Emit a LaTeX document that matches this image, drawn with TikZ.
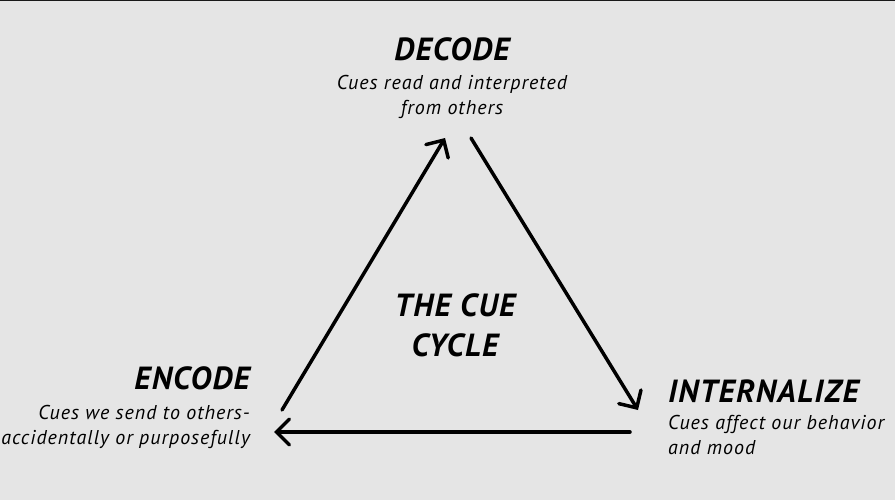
\documentclass[tikz,border=0pt]{standalone}
\usepackage{fontspec}
\setmainfont{PT Sans}
\newfontfamily\headfont{PT Sans}[LetterSpace=4]
\newfontfamily\cuefont{PT Sans}[LetterSpace=5]
\usetikzlibrary{arrows.meta}

\begin{document}
\begin{tikzpicture}[x=1pt,y=-1pt]
\tikzstyle{head}=[inner sep=0pt,font=\headfont\fontsize{32}{40}\selectfont\bfseries\itshape]
\tikzstyle{cue}=[inner sep=0pt,font=\cuefont\fontsize{20}{25.5}\selectfont\itshape]
\tikzstyle{cyc}=[line width=3.5pt,line cap=round,-{Straight Barb[length=13pt,width=26pt,line cap=round]}]

\fill[black!10] (0,0) rectangle (895,500);
\fill[black!90] (0,0) rectangle (895,1.5);
\useasboundingbox (0,0) rectangle (895,500);

\node[head,anchor=base] (decode) at (452,61) {DECODE};
\node[cue,anchor=north,align=center] (decodeTxt) at (452,75) {Cues read and interpreted\\from others};

\node[head,anchor=north,align=center] (title) at (455,293) {THE CUE\\CYCLE};

\node[head,anchor=base east] (encode) at (250,389) {ENCODE};
\node[cue,anchor=north east,align=right] (encodeTxt) at (250,405) {Cues we send to others-\\accidentally or purposefully};

\node[head,anchor=base west] (intern) at (668,402) {INTERNALIZE};
\node[cue,anchor=north west,align=left] (internTxt) at (668,415) {Cues affect our behavior\\and mood};

\coordinate (encOut) at (282,410);
\coordinate (decIn)  at (445,138);
\coordinate (decOut) at (471,138);
\coordinate (intIn)  at (638,410);
\coordinate (intOut) at (630,432);
\coordinate (encIn)  at (274,432);

\draw[cyc] (encOut) -- (decIn);
\draw[cyc] (decOut) -- (intIn);
\draw[cyc] (intOut) -- (encIn);

\end{tikzpicture}
\end{document}
